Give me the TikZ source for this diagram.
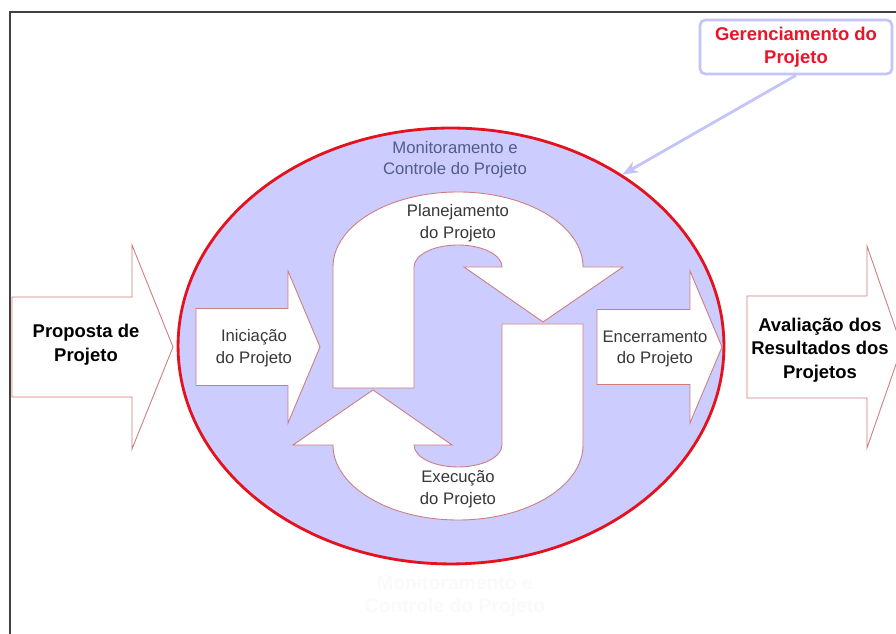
\documentclass[tikz,border=0pt]{standalone}
\usepackage{fontspec}
\setmainfont{Liberation Sans}
\usetikzlibrary{shapes.geometric,arrows.meta}
\definecolor{lavender}{RGB}{204,204,255}
\definecolor{ellred}{RGB}{228,18,30}
\definecolor{arrowedge}{RGB}{205,125,125}
\definecolor{mgmtblue}{RGB}{196,196,250}
\definecolor{monitext}{RGB}{80,92,140}
\definecolor{steptext}{RGB}{55,55,55}
\definecolor{mgmtred}{RGB}{235,20,40}
\definecolor{ghosttext}{RGB}{250,250,250}

% block arrow: x start, x head base, x tip, half shaft, half head
\newcommand{\blockarrow}[5]{%
  \draw[blkarrow] (#1,{287+#4}) -- (#2,{287+#4}) -- (#2,{287+#5}) -- (#3,287)
    -- (#2,{287-#5}) -- (#2,{287-#4}) -- (#1,{287-#4}) -- cycle;}

\begin{document}
\begin{tikzpicture}[x=0.02cm,y=0.02cm,
    blkarrow/.style={draw=arrowedge, fill=white, line width=0.5pt},
    boldtext/.style={align=center, font=\fontsize{10.5}{13.5}\selectfont\bfseries},
    steplabel/.style={align=center, text=steptext, font=\fontsize{9.5}{12.5}\selectfont},
    frameline/.style={draw=black!75, line width=1.1pt}]
\useasboundingbox (0,0) rectangle (896,634);
\clip (0,0) rectangle (896,634);
\fill[white] (0,0) rectangle (896,634);
% frame
\draw[frameline] (10,-5) |- (905,622);

% outer arrows
\blockarrow{12}{132}{173}{50}{102}
\node[boldtext] (proposta) at (86,289) {Proposta de\\Projeto};
\blockarrow{747}{867}{902}{51}{101}
\node[boldtext] (avaliacao) at (820,284) {Avaliação dos\\Resultados dos\\Projetos};

% monitoring ellipse
\node[ellipse, draw=ellred, fill=lavender, line width=1.6pt, inner sep=0pt,
      minimum width=10.92cm, minimum height=8.72cm] (ell) at (451,288) {};
\node[align=center, text=monitext, font=\fontsize{9.5}{12}\selectfont] (monit) at (455,474)
  {Monitoramento e\\Controle do Projeto};

% initiation and closing
\blockarrow{196}{288}{320}{38.5}{76}
\node[steplabel] (inic) at (254,286) {Iniciação\\do Projeto};
\blockarrow{597}{690}{722}{37.5}{76}
\node[steplabel] (encerr) at (655,285) {Encerramento\\do Projeto};

% planning / execution loop
\begin{scope}[shift={(458,278)}]
  \foreach \r in {0,180} {
    \draw[blkarrow, rotate=\r] (-125,-32) -- (-125,89)
      arc[start angle=180, end angle=0, x radius=125, y radius=75]
      -- (165,89) -- (85,34) -- (6,89) -- (44,89)
      arc[start angle=0, end angle=180, x radius=44, y radius=22]
      -- (-44,-32) -- cycle;
  }
  \node[steplabel] (plan) at (0,133) {Planejamento\\do Projeto};
  \node[steplabel] (exec) at (0,-133) {Execução\\do Projeto};
\end{scope}

% faded label below the ellipse
\node[align=center, text=ghosttext, font=\fontsize{11}{13}\selectfont\bfseries] (ghost) at (455,38)
  {Monitoramento e\\Controle do Projeto};

% project management callout
\node[draw=mgmtblue, fill=white, line width=1.5pt, rounded corners=3pt,
      minimum width=3.84cm, minimum height=1.08cm, align=center, text=mgmtred,
      font=\fontsize{10.5}{13}\selectfont\bfseries] (gerenc) at (796,587)
  {Gerenciamento do\\Projeto};
\draw[draw=mgmtblue, line width=1.6pt, -{Stealth[length=9pt,width=7pt]}] (gerenc.south) -- (ell.45);
\end{tikzpicture}
\end{document}
